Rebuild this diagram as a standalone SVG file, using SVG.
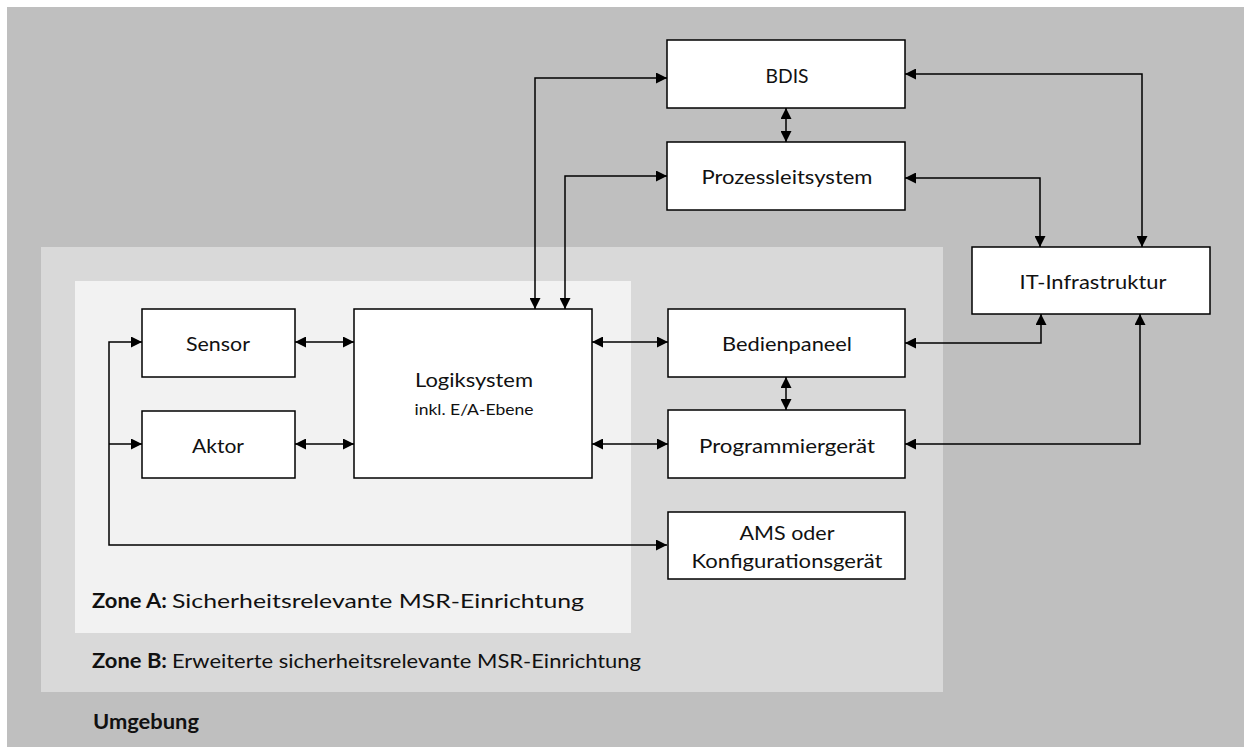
<svg xmlns="http://www.w3.org/2000/svg" width="1244" height="747" viewBox="0 0 1244 747">
<defs>
<style>
.box{fill:#ffffff;stroke:#000000;stroke-width:1.5}
.t{font-family:Lato,"Open Sans","Liberation Sans",sans-serif;font-size:20px;fill:#111111;text-anchor:middle}
.s{font-size:16px}
.l{font-family:Lato,"Open Sans","Liberation Sans",sans-serif;font-size:20px;fill:#111111}
.b{font-weight:bold}
.c{fill:none;stroke:#000000;stroke-width:1.5}
.ab{marker-start:url(#ah);marker-end:url(#ah)}
.ae{marker-end:url(#ah)}
</style>
<marker id="ah" markerUnits="userSpaceOnUse" markerWidth="11" markerHeight="11" refX="11" refY="5.5" orient="auto-start-reverse">
<path d="M0,0 L11,5.5 L0,11 Z" fill="#000000"/>
</marker>
</defs>
<rect x="7" y="7" width="1237" height="740" fill="#bfbfbf"/>
<rect x="41" y="247" width="902" height="445" fill="#d9d9d9"/>
<rect x="75" y="281" width="556" height="352" fill="#f2f2f2"/>
<text class="l b" x="93" y="729" textLength="106" lengthAdjust="spacingAndGlyphs">Umgebung</text>
<text class="l b" x="92" y="668" textLength="75" lengthAdjust="spacingAndGlyphs">Zone B:</text>
<text class="l" x="172" y="668" textLength="469" lengthAdjust="spacingAndGlyphs">Erweiterte sicherheitsrelevante MSR-Einrichtung</text>
<text class="l b" x="92" y="608" textLength="75" lengthAdjust="spacingAndGlyphs">Zone A:</text>
<text class="l" x="172" y="608" textLength="412" lengthAdjust="spacingAndGlyphs">Sicherheitsrelevante MSR-Einrichtung</text>
<g id="connectors">
<path class="c ab" d="M535,309 V78 H667"/>
<path class="c ab" d="M565,309 V176 H667"/>
<path class="c ab" d="M786,108 V142"/>
<path class="c ab" d="M905,74 H1142 V247"/>
<path class="c ab" d="M905,178 H1040 V247"/>
<path class="c ab" d="M905,343 H1041 V314"/>
<path class="c ab" d="M905,444 H1140 V314"/>
<path class="c ab" d="M295,342 H354"/>
<path class="c ab" d="M295,444 H354"/>
<path class="c ab" d="M592,342 H668"/>
<path class="c ab" d="M592,444 H668"/>
<path class="c ab" d="M786,377 V410"/>
<path class="c ab" d="M142,342 H109 V545 H667"/>
<path class="c ae" d="M109,444 H142"/>
</g>
<g id="bdis">
<rect class="box" x="667" y="40" width="238" height="68"/>
<text class="t" x="787" y="83" textLength="43" lengthAdjust="spacingAndGlyphs">BDIS</text>
</g>
<g id="prozessleitsystem">
<rect class="box" x="667" y="142" width="238" height="68"/>
<text class="t" x="787" y="184" textLength="171" lengthAdjust="spacingAndGlyphs">Prozessleitsystem</text>
</g>
<g id="it-infrastruktur">
<rect class="box" x="972" y="247" width="238" height="67"/>
<text class="t" x="1093" y="289" textLength="147" lengthAdjust="spacingAndGlyphs">IT-Infrastruktur</text>
</g>
<g id="sensor">
<rect class="box" x="142" y="309" width="153" height="68"/>
<text class="t" x="218" y="351" textLength="64" lengthAdjust="spacingAndGlyphs">Sensor</text>
</g>
<g id="aktor">
<rect class="box" x="142" y="411" width="153" height="67"/>
<text class="t" x="218" y="453" textLength="52" lengthAdjust="spacingAndGlyphs">Aktor</text>
</g>
<g id="logiksystem">
<rect class="box" x="354" y="309" width="238" height="169"/>
<text class="t" x="474" y="387" textLength="118" lengthAdjust="spacingAndGlyphs">Logiksystem</text>
<text class="t s" x="474" y="415" textLength="119" lengthAdjust="spacingAndGlyphs">inkl. E/A-Ebene</text>
</g>
<g id="bedienpaneel">
<rect class="box" x="668" y="309" width="237" height="68"/>
<text class="t" x="787" y="351" textLength="130" lengthAdjust="spacingAndGlyphs">Bedienpaneel</text>
</g>
<g id="programmiergeraet">
<rect class="box" x="668" y="410" width="237" height="68"/>
<text class="t" x="787" y="453" textLength="176" lengthAdjust="spacingAndGlyphs">Programmiergerät</text>
</g>
<g id="ams">
<rect class="box" x="668" y="512" width="237" height="67"/>
<text class="t" x="787" y="540" textLength="95" lengthAdjust="spacingAndGlyphs">AMS oder</text>
<text class="t" x="787" y="568" textLength="191" lengthAdjust="spacingAndGlyphs">Konfigurationsgerät</text>
</g>
</svg>
